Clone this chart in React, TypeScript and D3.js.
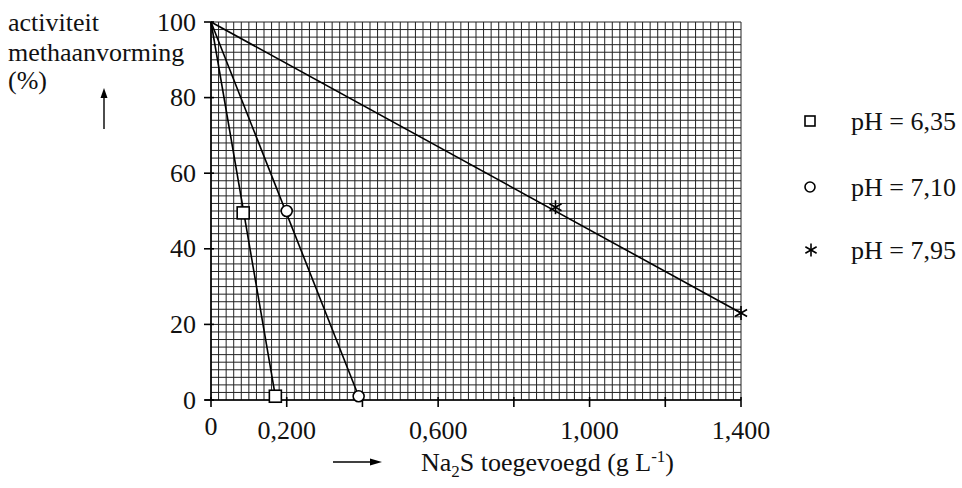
import React from "react";
import * as d3 from "d3";

const xTickValues = [0, 0.2, 0.4, 0.6, 0.8, 1.0, 1.2, 1.4];
const xTickLabels = ["0", "0,200", "", "0,600", "", "1,000", "", "1,400"];
const yTickValues = [0, 20, 40, 60, 80, 100];
const yTickLabels = ["0", "20", "40", "60", "80", "100"];

const seriesNames = ["pH = 6,35", "pH = 7,10", "pH = 7,95"];
const lineSq: [number, number][] = [[0, 100], [0.17, 1]];
const pointsSq: [number, number][] = [[0.085, 49.5], [0.17, 1]];
const lineCi: [number, number][] = [[0, 100], [0.39, 1]];
const pointsCi: [number, number][] = [[0.2, 50], [0.39, 1]];
const lineSt: [number, number][] = [[0, 100], [1.4, 23]];
const pointsSt: [number, number][] = [[0.91, 51], [1.4, 23]];

const W = 962;
const H = 488;
const FONT = "Liberation Serif, Times New Roman, Times, serif";
const FS = 26;
const TS: React.CSSProperties = { fontFamily: FONT, fontSize: FS };

const x = d3.scaleLinear().domain([0, 1.4]).range([211, 741]);
const y = d3.scaleLinear().domain([0, 100]).range([400, 22]);

const line = d3
  .line<[number, number]>()
  .x((d) => x(d[0]))
  .y((d) => y(d[1]));

function Square({ cx, cy, s }: { cx: number; cy: number; s: number }) {
  return (
    <rect x={cx - s / 2} y={cy - s / 2} width={s} height={s} fill="white" stroke="black" strokeWidth={1.6} />
  );
}
function Circ({ cx, cy, r }: { cx: number; cy: number; r: number }) {
  return <circle cx={cx} cy={cy} r={r} fill="white" stroke="black" strokeWidth={1.6} />;
}
function Star({ cx, cy, r }: { cx: number; cy: number; r: number }) {
  const arms = [90, 30, 150];
  return (
    <g stroke="black" strokeWidth={1.6}>
      {arms.map((a) => {
        const rad = (a * Math.PI) / 180;
        const dx = r * Math.cos(rad);
        const dy = r * Math.sin(rad);
        return <line key={a} x1={cx - dx} y1={cy - dy} x2={cx + dx} y2={cy + dy} />;
      })}
    </g>
  );
}

export default function App() {
  const gridX = d3.range(0, 71).map((i) => i * 0.02);
  const gridY = d3.range(0, 51).map((i) => i * 2);
  return (
    <svg width={W} height={H} style={{ position: "absolute", left: 0, top: 0, background: "white" }}>
      {/* grid */}
      <g stroke="#222" strokeWidth={1}>
        {gridX.map((v, i) => (
          <line key={"gx" + i} x1={x(v)} x2={x(v)} y1={y(0)} y2={y(100)} />
        ))}
        {gridY.map((v, i) => (
          <line key={"gy" + i} y1={y(v)} y2={y(v)} x1={x(0)} x2={x(1.4)} />
        ))}
      </g>
      {/* axes */}
      <g stroke="black" strokeWidth={1.6}>
        <line x1={x(0)} x2={x(0)} y1={y(0)} y2={y(100)} />
        <line x1={x(0) - 6} x2={x(1.4)} y1={y(0)} y2={y(0)} />
        {yTickValues.map((v) => (
          <line key={"yt" + v} x1={x(0) - 7} x2={x(0) + 3} y1={y(v)} y2={y(v)} />
        ))}
        {xTickValues.map((v) => (
          <line key={"xt" + v} x1={x(v)} x2={x(v)} y1={y(0) - 3} y2={y(0) + 7} />
        ))}
      </g>
      {/* tick labels */}
      <g fill="#111">
        {yTickValues.map((v, i) => (
          <text key={"yl" + v} x={196} y={y(v)} textAnchor="end" dominantBaseline="central" style={TS}>
            {yTickLabels[i]}
          </text>
        ))}
        {xTickValues.map((v, i) =>
          xTickLabels[i] ? (
            <text key={"xl" + v} x={x(v)} y={v === 0 ? 435 : 439} textAnchor="middle" style={TS}>
              {xTickLabels[i]}
            </text>
          ) : null
        )}
      </g>
      {/* lines */}
      <g fill="none" stroke="black" strokeWidth={1.6}>
        <path d={line(lineSq) || ""} />
        <path d={line(lineCi) || ""} />
        <path d={line(lineSt) || ""} />
      </g>
      {/* markers */}
      {pointsSq.map((p, i) => (
        <Square key={"s" + i} cx={x(p[0])} cy={y(p[1])} s={12} />
      ))}
      {pointsCi.map((p, i) => (
        <Circ key={"c" + i} cx={x(p[0])} cy={y(p[1])} r={5.5} />
      ))}
      {pointsSt.map((p, i) => (
        <Star key={"t" + i} cx={x(p[0])} cy={y(p[1])} r={7} />
      ))}
      {/* y title */}
      <g fill="#111">
        <text x={8} y={31} style={TS}>activiteit</text>
        <text x={8} y={61} style={TS}>methaanvorming</text>
        <text x={8} y={89} style={TS}>(%)</text>
      </g>
      <line x1={104} x2={104} y1={129} y2={93} stroke="black" strokeWidth={1.4} />
      <path d="M104,88 L100.5,98 L107.5,98 Z" fill="black" />
      {/* x title */}
      <line x1={333} x2={372} y1={462} y2={462} stroke="black" strokeWidth={1.4} />
      <path d="M382,462 L370,458.5 L370,465.5 Z" fill="black" />
      <text x={421} y={471} fill="#111" style={TS}>
        Na<tspan style={{ fontSize: 17 }} dy={6}>2</tspan>
        <tspan dy={-6}>S toegevoegd (g L</tspan>
        <tspan style={{ fontSize: 17 }} dy={-9}>-1</tspan>
        <tspan dy={9}>)</tspan>
      </text>
      {/* legend */}
      <Square cx={810} cy={121} s={10} />
      <Circ cx={810} cy={187} r={5} />
      <Star cx={811} cy={250} r={6.5} />
      <g fill="#111">
        {seriesNames.map((n, i) => (
          <text key={n} x={851} y={[121, 187, 250][i]} dominantBaseline="central" style={TS}>
            {n}
          </text>
        ))}
      </g>
    </svg>
  );
}
